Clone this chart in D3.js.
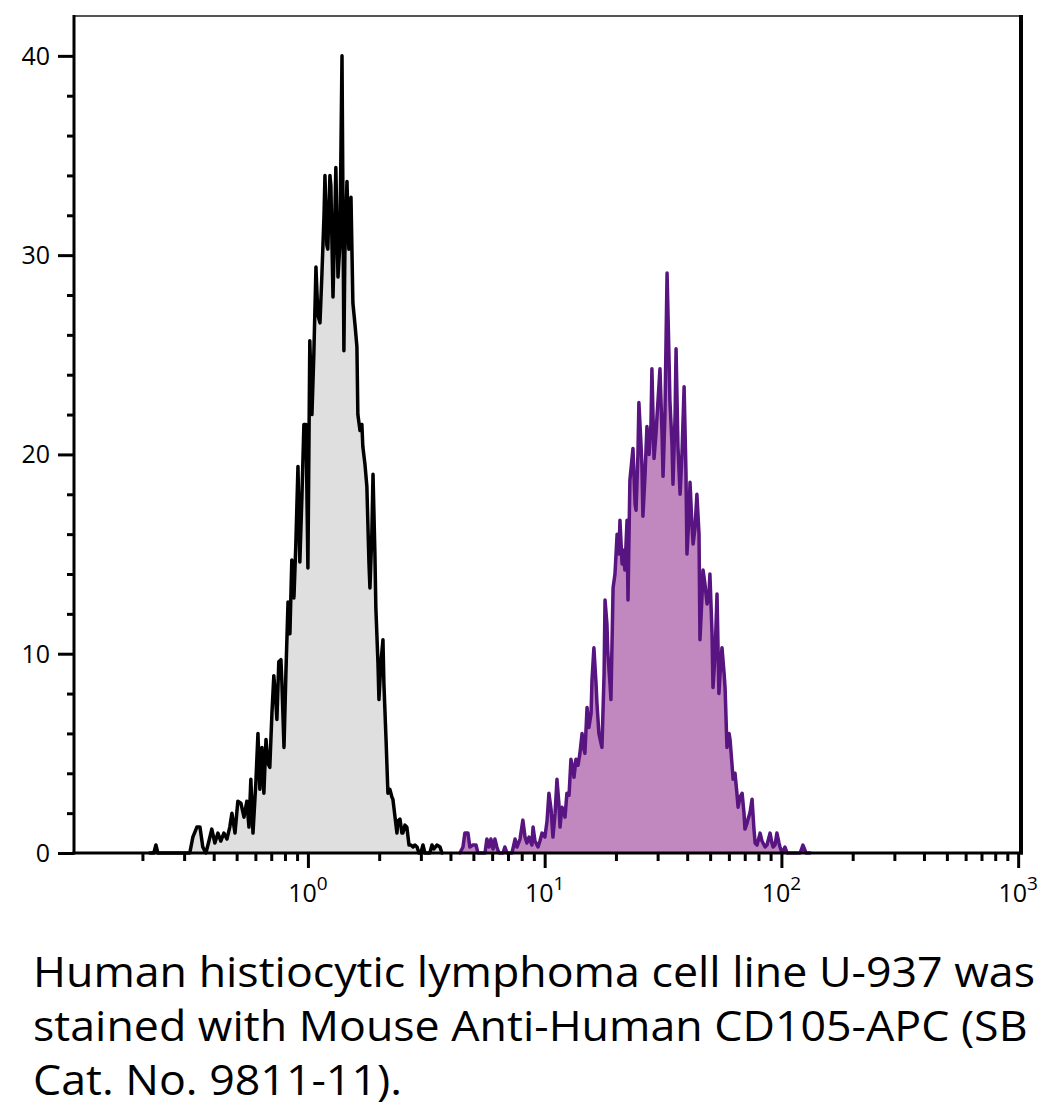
<!DOCTYPE html>
<html><head><meta charset="utf-8">
<script src="https://cdn.jsdelivr.net/npm/d3@7/dist/d3.min.js"></script>
<style>html,body{margin:0;padding:0;background:#fff;} svg{display:block;}</style>
</head><body>
<svg id="chart" width="1052" height="1110"></svg>
<script>
// ---- data (log10 of fluorescence intensity, event count) ----
const grayLog = [
 -0.668,-0.651,-0.642,-0.634,-0.499,-0.486,-0.469,-0.456,-0.444,-0.431,
 -0.418,-0.406,-0.393,-0.380,-0.368,-0.355,-0.342,-0.330,-0.321,-0.308,
 -0.296,-0.283,-0.270,-0.258,-0.249,-0.241,-0.232,-0.220,-0.211,-0.203,
 -0.194,-0.186,-0.177,-0.169,-0.161,-0.152,-0.144,-0.135,-0.131,-0.123,
 -0.114,-0.110,-0.101,-0.093,-0.084,-0.076,-0.068,-0.059,-0.051,-0.042,
 -0.034,-0.025,-0.017,-0.008, 0.000, 0.008, 0.017, 0.025, 0.034, 0.042,
  0.051, 0.059, 0.068, 0.072, 0.080, 0.084, 0.093, 0.097, 0.106, 0.114,
  0.118, 0.127, 0.135, 0.144, 0.152, 0.156, 0.165, 0.173, 0.182, 0.190,
  0.199, 0.207, 0.211, 0.220, 0.228, 0.232, 0.241, 0.249, 0.258, 0.262,
  0.270, 0.275, 0.283, 0.287, 0.296, 0.300, 0.308, 0.317, 0.321, 0.330,
  0.338, 0.346, 0.355, 0.359, 0.368, 0.376, 0.380, 0.389, 0.397, 0.401,
  0.410, 0.418, 0.427, 0.435, 0.444, 0.452, 0.461, 0.469, 0.477, 0.486,
  0.494, 0.515, 0.524, 0.532, 0.545, 0.558, 0.566
];
const grayCount = [
  0, 0, 0.4, 0, 0, 0.8, 1.3, 1.3, 0.3, 0,
  0.6, 1.2, 0.5, 1.0, 0.6, 1.0, 0.7, 1.3, 2.0, 1.0,
  2.6, 2.5, 1.8, 2.6, 1.3, 3.7, 1.0, 3.5, 6.0, 3.2,
  5.3, 3.0, 5.7, 4.5, 4.3, 7.0, 8.9, 7.5, 6.7, 9.6,
  9.7, 8.6, 5.3, 9.0, 12.6, 11.0, 14.7, 12.8, 15.5, 19.4,
  14.6, 18.0, 21.5, 21.5, 14.3, 25.7, 22.0, 25.0, 29.4, 27.0,
  26.6, 29.0, 32.0, 34.0, 30.5, 30.3, 34.0, 33.5, 27.9, 32.0,
  34.4, 28.9, 30.5, 40.0, 25.2, 30.0, 33.7, 30.3, 32.9, 27.6,
  26.5, 25.4, 22.0, 21.2, 21.5, 20.4, 19.5, 18.4, 14.5, 13.3,
  16.0, 19.0, 15.0, 12.3, 9.5, 7.7, 9.5, 10.7, 8.5, 5.7,
  3.0, 3.2, 2.8, 2.7, 1.8, 1.0, 1.6, 1.7, 1.0, 1.0,
  1.4, 1.3, 0.4, 0.4, 0.3, 0.4, 0.3, 0, 0, 0.4,
  0, 0, 0.4, 0.2, 0.4, 0.3, 0
];
const purpleLog = [
  0.642, 0.655, 0.663, 0.676, 0.684, 0.697, 0.710, 0.718, 0.748, 0.756,
  0.765, 0.773, 0.782, 0.790, 0.798, 0.807, 0.824, 0.832, 0.841, 0.862,
  0.875, 0.883, 0.896, 0.908, 0.917, 0.925, 0.934, 0.946, 0.951, 0.959,
  0.972, 0.980, 0.989, 1.001, 1.010, 1.018, 1.027, 1.035, 1.044, 1.052,
  1.060, 1.065, 1.073, 1.082, 1.086, 1.094, 1.103, 1.111, 1.120, 1.124,
  1.132, 1.141, 1.145, 1.149, 1.158, 1.166, 1.170, 1.179, 1.187, 1.196,
  1.200, 1.208, 1.217, 1.221, 1.229, 1.238, 1.242, 1.251, 1.255, 1.263,
  1.267, 1.276, 1.280, 1.289, 1.297, 1.306, 1.314, 1.318, 1.327, 1.331,
  1.339, 1.348, 1.352, 1.360, 1.373, 1.382, 1.386, 1.394, 1.398, 1.407,
  1.411, 1.415, 1.424, 1.432, 1.441, 1.449, 1.453, 1.462, 1.470, 1.475,
  1.483, 1.487, 1.496, 1.500, 1.508, 1.517, 1.525, 1.529, 1.538, 1.542,
  1.551, 1.555, 1.563, 1.572, 1.580, 1.589, 1.597, 1.601, 1.610, 1.614,
  1.622, 1.627, 1.635, 1.643, 1.652, 1.656, 1.665, 1.669, 1.677, 1.686,
  1.694, 1.698, 1.707, 1.711, 1.720, 1.728, 1.736, 1.741, 1.749, 1.758,
  1.762, 1.770, 1.779, 1.783, 1.791, 1.796, 1.804, 1.812, 1.817, 1.825,
  1.834, 1.842, 1.846, 1.855, 1.859, 1.867, 1.876, 1.884, 1.889, 1.897,
  1.910, 1.918, 1.931, 1.939, 1.952, 1.960, 1.965, 1.973, 1.981, 1.990,
  1.994, 2.003, 2.015, 2.024, 2.079, 2.091, 2.104, 2.121
];
const purpleCount = [
  0, 0.3, 1.0, 1.0, 0.3, 0.4, 0.4, 0, 0, 0.7,
  0.3, 0.7, 0.2, 0.7, 0.3, 0, 0, 0.3, 0, 0,
  0.7, 0.3, 0.7, 1.65, 0.8, 0.5, 0.8, 0.4, 1.3, 0.6,
  0.3, 0.6, 1.0, 0.8, 1.6, 3.0, 2.2, 0.8, 2.0, 3.7,
  2.5, 1.3, 2.3, 2.0, 1.8, 3.0, 2.9, 4.7, 4.2, 3.8,
  4.7, 4.4, 4.7, 5.0, 6.0, 5.2, 5.0, 7.3, 6.3, 7.0,
  8.7, 10.3, 8.5, 7.5, 6.0, 5.5, 5.3, 9.0, 12.7, 11.5,
  10.0, 8.5, 7.7, 13.3, 14.0, 16.0, 15.0, 16.7, 14.5, 15.2,
  14.2, 16.7, 12.7, 18.7, 20.3, 17.5, 17.2, 20.0, 22.6, 20.5,
  19.4, 16.9, 19.0, 21.4, 20.0, 21.5, 24.3, 19.8, 21.0, 22.0,
  23.5, 24.3, 21.0, 18.9, 22.0, 29.1, 25.0, 22.7, 20.5, 18.5,
  22.0, 25.3, 20.4, 18.0, 20.0, 23.4, 19.0, 15.0, 17.0, 18.6,
  16.5, 15.5, 16.3, 18.0, 16.0, 10.7, 13.0, 14.2, 13.5, 12.5,
  13.0, 14.0, 11.0, 8.3, 10.0, 13.0, 8.0, 9.0, 10.3, 9.0,
  8.3, 5.3, 6.0, 5.7, 4.5, 3.7, 4.0, 3.0, 2.3, 2.8,
  3.0, 2.0, 1.2, 1.5, 1.7, 2.0, 2.7, 1.2, 0.5, 0.4,
  1.0, 0.6, 0.3, 0.4, 1.0, 0.5, 0.3, 0.4, 1.0, 0.5,
  0.3, 0, 0.3, 0, 0, 0.4, 0, 0
];
const xMajorTicks = [1, 10, 100, 1000];
const xMajorExponents = ["0", "1", "2", "3"];
const xMinorTicks = [0.2,0.3,0.4,0.5,0.6,0.7,0.8,0.9, 2,3,4,5,6,7,8,9,
                     20,30,40,50,60,70,80,90, 200,300,400,500,600,700,800,900];
const yMajorTicks = [0, 10, 20, 30, 40];
const yMinorTicks = [2,4,6,8,12,14,16,18,22,24,26,28,32,34,36,38];
const xDomain = [0.1028, 1028];
const yDomain = [0, 42];
const captionLines = [
  "Human histiocytic lymphoma cell line U-937 was",
  "stained with Mouse Anti-Human CD105-APC (SB",
  "Cat. No. 9811-11)."
];

// ---- layout ----
const L = 74, R = 1021, T = 16, B = 853;
const svg = d3.select("#chart");
const x = d3.scaleLog().domain(xDomain).range([L, R]);
const y = d3.scaleLinear().domain(yDomain).range([B, T]);

const gray = grayLog.map((e, i) => ({v: Math.pow(10, e), c: grayCount[i]}));
const purple = purpleLog.map((e, i) => ({v: Math.pow(10, e), c: purpleCount[i]}));

const area = d3.area().x(d => x(d.v)).y0(y(0)).y1(d => y(d.c));
const line = d3.line().x(d => x(d.v)).y(d => y(d.c));

svg.append("path").datum(gray).attr("d", area).attr("fill", "#e0dfe0");
svg.append("path").datum(gray).attr("d", line).attr("fill", "none")
  .attr("stroke", "#000").attr("stroke-width", 3.5).attr("stroke-linejoin", "round").attr("stroke-linecap", "round");
svg.append("path").datum(purple).attr("d", area).attr("fill", "#c088be");
svg.append("path").datum(purple).attr("d", line).attr("fill", "none")
  .attr("stroke", "#581480").attr("stroke-width", 3.5).attr("stroke-linejoin", "round").attr("stroke-linecap", "round");

// frame
svg.append("line").attr("x1", L).attr("x2", R).attr("y1", T).attr("y2", T)
  .attr("stroke", "#555").attr("stroke-width", 2);
svg.append("line").attr("x1", R).attr("x2", R).attr("y1", T - 1).attr("y2", B + 1.5)
  .attr("stroke", "#000").attr("stroke-width", 4);

// y axis
const yMajor = svg.append("g").attr("transform", `translate(${L},0)`)
  .call(d3.axisLeft(y).tickValues(yMajorTicks).tickSize(16).tickPadding(8).tickFormat(d3.format("d")));
const yMinor = svg.append("g").attr("transform", `translate(${L},0)`)
  .call(d3.axisLeft(y).tickValues(yMinorTicks).tickSize(7).tickFormat(""));
[yMajor, yMinor].forEach(g => {
  g.select(".domain").remove();
  g.selectAll(".tick line").attr("stroke", "#000").attr("stroke-width", 3);
});
yMajor.selectAll(".tick text").attr("font-family", "'Open Sans', sans-serif")
  .attr("font-size", 25).attr("fill", "#000").attr("dy", "0.34em");

// x axis
const xMajor = svg.append("g").attr("transform", `translate(0,${B})`)
  .call(d3.axisBottom(x).tickValues(xMajorTicks).tickSize(15).tickFormat(""));
const xMinor = svg.append("g").attr("transform", `translate(0,${B})`)
  .call(d3.axisBottom(x).tickValues(xMinorTicks).tickSize(8).tickFormat(""));
[xMajor, xMinor].forEach(g => {
  g.select(".domain").remove();
  g.selectAll(".tick line").attr("stroke", "#000").attr("stroke-width", 3);
});
const xl = svg.append("g").attr("font-family", "'Open Sans', sans-serif").attr("fill", "#000");
xMajorTicks.forEach((t, i) => {
  const txt = xl.append("text").attr("x", x(t)).attr("y", 902)
    .attr("text-anchor", "middle").attr("font-size", 25);
  txt.append("tspan").text("10");
  txt.append("tspan").attr("font-size", 19).attr("dy", -12).text(xMajorExponents[i]);
});

// axis lines on top
svg.append("line").attr("x1", L).attr("x2", L).attr("y1", T - 1).attr("y2", B + 1.5)
  .attr("stroke", "#000").attr("stroke-width", 3);
svg.append("line").attr("x1", L - 1.5).attr("x2", R + 2).attr("y1", B).attr("y2", B)
  .attr("stroke", "#000").attr("stroke-width", 3);

// caption
const cap = svg.append("g").attr("font-family", "'Open Sans', sans-serif")
  .attr("font-size", 42).attr("fill", "#000");
const baselines = [987, 1041, 1095];
const texts = captionLines.map((s, i) => cap.append("text").attr("x", 33).attr("y", baselines[i]).text(s));
const w0 = texts[0].node().getComputedTextLength();
const k = (1035 - 33) / w0;
texts.forEach(t => {
  const w = t.node().getComputedTextLength();
  t.attr("textLength", w * k).attr("lengthAdjust", "spacingAndGlyphs");
});
</script>
</body></html>
